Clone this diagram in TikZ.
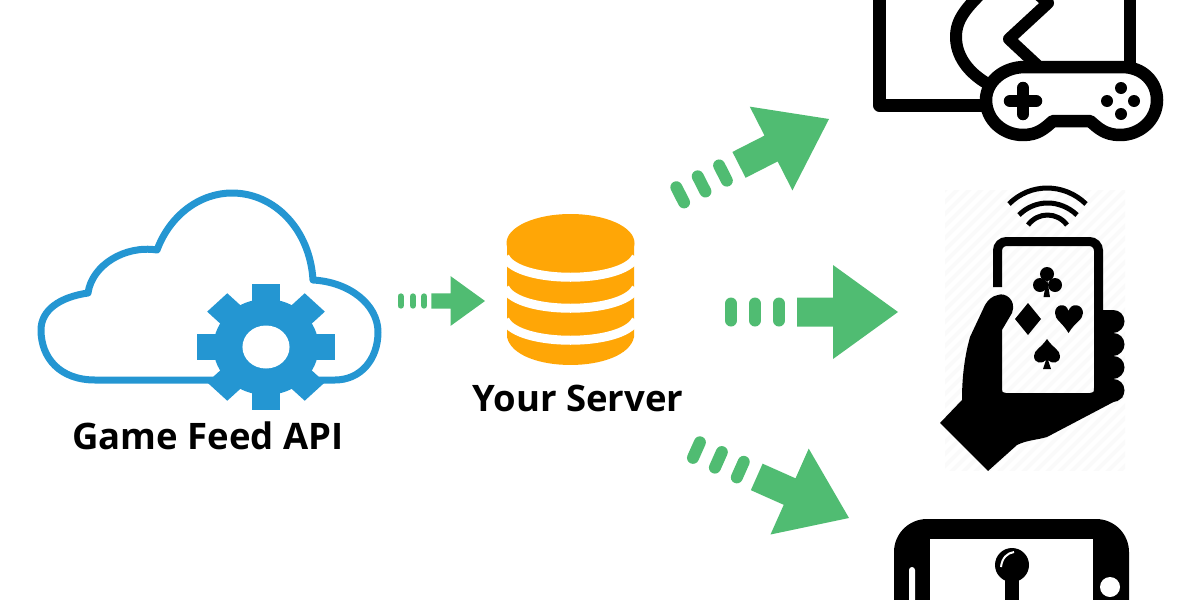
\documentclass[tikz,border=0pt]{standalone}
\usepackage{fontspec}
\setmainfont{Open Sans}
\definecolor{feedgreen}{HTML}{50BC72}
\definecolor{gearblue}{HTML}{2496D2}
\definecolor{serverorange}{HTML}{FFA606}
\tikzset{
label text/.style = {font=\fontsize{36.5}{42}\selectfont\bfseries, text=black, inner sep=0pt},
cloud line/.style = {draw=gearblue, line width=7pt, line join=round},
gap/.style = {draw=white, line width=9pt},
icon line/.style = {draw=black, line width=12.5pt, line join=round, line cap=round},
pill/.style = {draw=feedgreen, line cap=round}
}
\newcommand{\feedarrow}[4]{%
    \begin{scope}[shift={(#1)},rotate=#2,scale=#3]
    \fill[feedgreen] (0,0) -- (-65,-47) -- (-65,-14.5) -- (-101,-14.5) -- (-101,14.5)
        -- (-65,14.5) -- (-65,47) -- cycle;
    \foreach \px in {#4}
        \draw[pill, line width=#3*12pt] (-\px,-8.5) -- (-\px,8.5);
    \end{scope}}
\begin{document}
\begin{tikzpicture}[x=1pt,y=-1pt]
    \useasboundingbox (0,0) rectangle (1200,600);

    % cloud with gear
    \draw[cloud line] (215,380) -- (95,380) .. controls (60,380) and (41,358) .. (41,330)
        .. controls (41,310) and (60,297) .. (88,293)
        .. controls (92,265) and (125,245) .. (157,250)
        .. controls (170,215) and (200,193) .. (232,193)
        .. controls (275,193) and (310,230) .. (313,280)
        .. controls (350,282) and (378,305) .. (378,332)
        .. controls (378,360) and (360,380) .. (335,380) -- (315,380);
    \begin{scope}[shift={(266,347)},xscale=1.095]
    \fill[gearblue] (0,0) circle[radius=48];
    \foreach \a in {0,45,90,135}
        \fill[gearblue,rotate=\a] (-13,-63) rectangle (13,63);
    \fill[white] (0,0) circle[radius=21.5];
    \end{scope}
    \node[label text] (api) at (208,436) {Game Feed API};

    % server
    \fill[serverorange] (507,243) -- (507,337) .. controls (515,374.3) and (626,374.3) .. (634,337)
        -- (634,243) -- cycle;
    \fill[serverorange] (570.5,243) ellipse [x radius=64,y radius=29];
    \foreach \y in {257,288,320}
        \draw[gap] (505,\y) .. controls (518,\y+27) and (623,\y+27) .. (636,\y);
    \node[label text] (server) at (578,398) {Your Server};

    % arrows
    \feedarrow{485,301}{0}{.53}{115,136,159}
    \feedarrow{829,119}{27}{1}{119,143,167}
    \feedarrow{898,312}{0}{1}{119,143,167}
    \feedarrow{849,518}{-24}{1}{119,143,167}

    % controller on a screen
    \draw[icon line] (879.5,-10) -- (879.5,105.5) -- (990,105.5);
    \draw[icon line] (1130,-10) -- (1130,70);
    \draw[icon line, line width=12pt] (988,84) .. controls (967,72) and (956,55) .. (956,37)
        .. controls (956,20) and (965,8) .. (990,-15) -- (1020,-22) -- (1048,3) -- (1009,39) -- (1038,66);
    \draw[icon line, fill=white] (1025,67) -- (1122,67) .. controls (1143,67) and (1157,82) .. (1157,100)
        .. controls (1157,120) and (1140,135) .. (1120,135)
        .. controls (1105,135) and (1098,128) .. (1090,121) -- (1053,121)
        .. controls (1045,128) and (1038,135) .. (1023,135)
        .. controls (1003,135) and (986,120) .. (986,100)
        .. controls (986,82) and (1003,67) .. (1025,67) -- cycle;
    \draw[icon line] (1010,101) -- (1036,101);
    \draw[icon line] (1023,88) -- (1023,114);
    \foreach \bx/\by in {1121/88,1107/101,1134/101,1121/114}
        \fill (\bx,\by) circle[radius=6];

    % phone in a hand
    \begin{scope}
    \clip (945,190) rectangle (1125,470);
    \foreach \s in {660,672,...,1130}
        \draw[black!2,line width=4pt] (\s,475) -- (\s+290,185);
    \end{scope}
    \draw[line width=5pt] (1009,204) .. controls (1030,182.7) and (1064,182.7) .. (1086,204);
    \draw[line width=5pt] (1019,215) .. controls (1035,199) and (1060,199) .. (1077,215);
    \draw[line width=5pt] (1028,225) .. controls (1038,211.7) and (1057,211.7) .. (1067,225);
    \draw[line width=9pt,rounded corners=9pt] (997.5,287) -- (997.5,241.5) -- (1098.5,241.5) -- (1098.5,395);
    \begin{scope}
    \clip (1098,300) rectangle (1130,420);
    \foreach \fy in {321,344,367,390}
        \draw[line width=23pt,line cap=round] (1100,\fy) -- (1113,\fy);
    \end{scope}
    \fill (1002,330) -- (1012,313) .. controls (1017,300) and (1005,292) .. (998,295)
        .. controls (992,296) and (988,300) .. (985,305) -- (970,337)
        .. controls (965,355) and (962,375) .. (962,400) -- (940,423) -- (988,471) -- (1017,445)
        .. controls (1027,440) and (1037,440) .. (1047,437) -- (1123,397) -- (1110,385) -- (1094,385)
        -- (1094,388) .. controls (1094,392) .. (1090,393) -- (1006,393)
        .. controls (1002,392) .. (1002,389) -- cycle;
    % club
    \fill (1047,274) circle[radius=7];
    \fill (1040,285) circle[radius=7];
    \fill (1055,285) circle[radius=7];
    \fill (1047,278) -- (1050,297) -- (1043.5,297) -- cycle;
    % diamond
    \fill (1028,303) -- (1041,319) -- (1028,335) -- (1015,319) -- cycle;
    % heart
    \fill (1068.5,333) .. controls (1062,322) and (1055,320) .. (1055,313)
        .. controls (1055,304) and (1066,302) .. (1068.5,311)
        .. controls (1071,302) and (1083,304) .. (1083,313)
        .. controls (1083,320) and (1075,322) .. (1068.5,333);
    % spade
    \fill (1047,339) .. controls (1041,348) and (1034,350) .. (1034,356)
        .. controls (1034,364) and (1043,364) .. (1046,360) -- (1043,369) -- (1051,369) -- (1048,360)
        .. controls (1051,364) and (1060,364) .. (1060,356)
        .. controls (1060,350) and (1053,348) .. (1047,339);

    % tablet with joystick
    \fill[rounded corners=33pt] (894,640) -- (894,519) -- (1129,519) -- (1129,640) -- cycle;
    \fill[white] (930,539) rectangle (1093,610);
    \fill[white,rounded corners=3pt] (909,567) rectangle (915,620);
    \fill[white] (1110,587) circle[radius=10];
    \fill (1012,565) circle[radius=17];
    \fill (1005,575) -- (1019,575) -- (1019,600) -- (1005,600) -- cycle;
    \draw[white,line width=2pt] (1001,567) .. controls (1002,558) and (1007,553) .. (1014,552);
\end{tikzpicture}
\end{document}
